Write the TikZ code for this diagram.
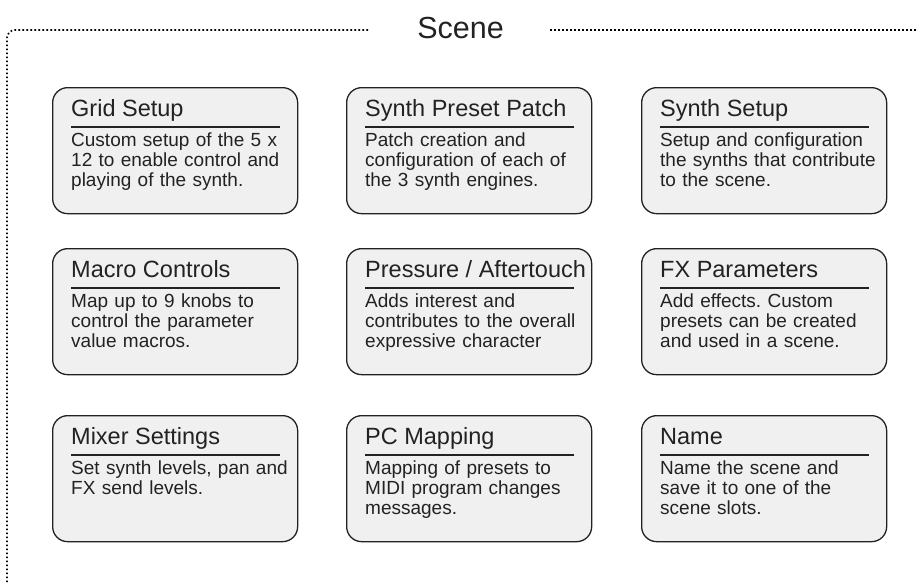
\documentclass[tikz,border=0pt]{standalone}
\usepackage{fontspec}
\setmainfont{Liberation Sans}
\usepackage{tikz}
\frenchspacing
\hyphenpenalty=10000
\exhyphenpenalty=10000
\definecolor{boxfill}{HTML}{F0F0F0}
\definecolor{ink}{HTML}{222222}
% one panel: name, x, y (top left, px), title, body
\newcommand{\panel}[5]{%
	\node[panelbox] (#1) at (#2,#3) {};
	\node[paneltitle] (#1-title) at ([shift={(19,29)}]#1.north west) {#4};
	\draw[panelrule] ([shift={(19,40)}]#1.north west) -- ([shift={(-18,40)}]#1.north east);
	\node[paneltext] (#1-text) at ([shift={(19,59)}]#1.north west) {#5};
}

\begin{document}
\begin{tikzpicture}[x=1pt,y=-1pt,
	panelbox/.style={draw=ink,line width=1.3pt,fill=boxfill,rounded corners=15pt,
		minimum width=245pt,minimum height=126pt,inner sep=0pt,anchor=north west},
	paneltitle/.style={anchor=base west,inner sep=0pt,text=ink,font=\fontsize{23.5}{26}\selectfont},
	panelrule/.style={draw=ink,line width=1.2pt},
	paneltext/.style={anchor=base west,inner sep=0pt,text=ink,text width=240pt,
		align=left,font=\fontsize{19}{20}\selectfont},
	frame/.style={draw=black,line width=1.7pt,dash pattern=on 1.6pt off 2.4pt}]
	\useasboundingbox (0,0) rectangle (918,584);
	\node[anchor=base,inner sep=0pt,text=ink,font=\fontsize{30.5}{34}\selectfont] (scene) at (460.5,38) {Scene};
	\draw[frame,rounded corners=8pt] (368,30) -- (7,30) -- (7,584);
	\draw[frame] (550,30) -- (918,30);
	\panel{grid}{52}{87}{Grid Setup}{Custom setup of the 5 x\\12 to enable control and\\playing of the synth.}
	\panel{patch}{346}{87}{Synth Preset Patch}{Patch creation and\\configuration of each of\\the 3 synth engines.}
	\panel{synth}{641}{87}{Synth Setup}{Setup and configuration\\the synths that contribute\\to the scene.}
	\panel{macro}{52}{248}{Macro Controls}{Map up to 9 knobs to\\control the parameter\\value macros.}
	\panel{press}{346}{248}{Pressure / Aftertouch}{Adds interest and\\contributes to the overall\\expressive character}
	\panel{fx}{641}{248}{FX Parameters}{Add effects. Custom\\presets can be created\\and used in a scene.}
	\panel{mixer}{52}{415}{Mixer Settings}{Set synth levels, pan and\\FX send levels.}
	\panel{pc}{346}{415}{PC Mapping}{Mapping of presets to\\MIDI program changes\\messages.}
	\panel{name}{641}{415}{Name}{Name the scene and\\save it to one of the\\scene slots.}
\end{tikzpicture}
\end{document}
